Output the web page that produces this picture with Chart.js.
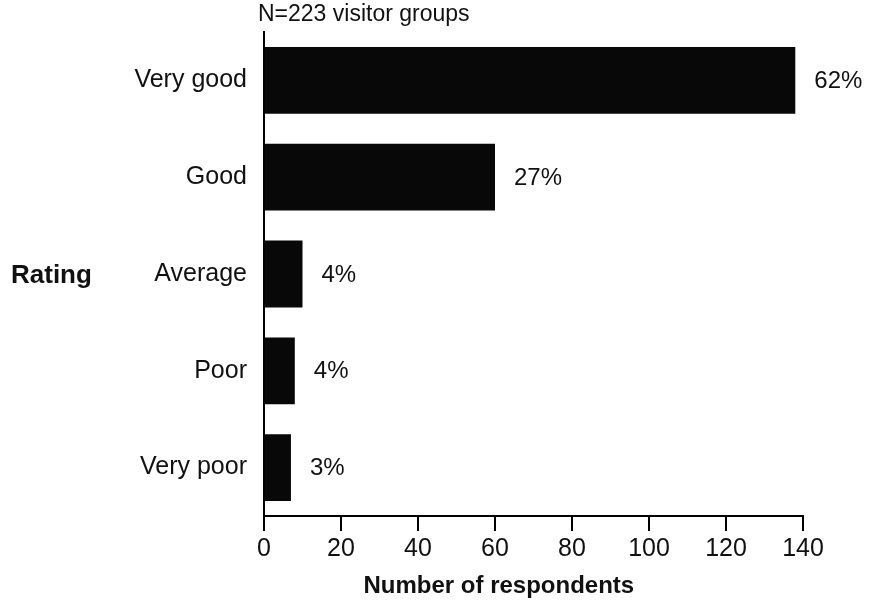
<!DOCTYPE html>
<html>
<head>
<meta charset="utf-8">
<script src="https://cdn.jsdelivr.net/npm/chart.js@4/dist/chart.umd.min.js"></script>
<style>
  html, body { margin: 0; padding: 0; background: #fff; }
  #wrap { width: 871px; height: 603px; }
</style>
</head>
<body>
<div id="wrap"><canvas id="chart" width="871" height="603"></canvas></div>
<script>
// ─── Daten ──────────────────────────────────────────────────────────────────
const categories = ['Very good', 'Good', 'Average', 'Poor', 'Very poor'];
const respondents = [138, 60, 10, 8, 7];
const percentLabels = ['62%', '27%', '4%', '4%', '3%'];
const xTicks = [0, 20, 40, 60, 80, 100, 120, 140];

const FONT = '"Liberation Sans", Arial, sans-serif';

// ─── Beschriftungen (Prozent, Rating, N=, Achsentitel) ──────────────────────
const annotations = {
  id: 'annotations',
  afterDatasetsDraw(chart) {
    const ctx = chart.ctx;
    const meta = chart.getDatasetMeta(0);
    const area = chart.chartArea;
    ctx.save();
    ctx.fillStyle = '#111';
    ctx.textBaseline = 'middle';
    ctx.textAlign = 'left';
    ctx.font = '24px ' + FONT;
    meta.data.forEach((bar, i) => {
      ctx.fillText(percentLabels[i], bar.x + 19, bar.y + 1);
    });
    // "Rating" links
    ctx.font = 'bold 26px ' + FONT;
    ctx.fillText('Rating', 11, meta.data[2].y + 2);
    // N oben
    ctx.font = '23px ' + FONT;
    ctx.fillText('N=223 visitor groups', area.left - 6, 15);
    // x-Achsentitel (im Original leicht nach links versetzt)
    ctx.font = 'bold 24px ' + FONT;
    ctx.textAlign = 'center';
    ctx.fillText('Number of respondents', chart.scales.x.getPixelForValue(61), 586);
    ctx.restore();
  }
};

new Chart(document.getElementById('chart'), {
  type: 'bar',
  data: {
    labels: categories,
    datasets: [{
      data: respondents,
      backgroundColor: '#080808',
      borderWidth: 0,
      categoryPercentage: 0.69,
      barPercentage: 1.0,
    }],
  },
  options: {
    indexAxis: 'y',
    responsive: false,
    animation: false,
    layout: { padding: { top: 32, right: 68, left: 0, bottom: 0 } },
    plugins: { legend: { display: false }, tooltip: { enabled: false } },
    scales: {
      x: {
        min: 0, max: 140,
        afterBuildTicks: (s) => { s.ticks = xTicks.map(v => ({ value: v })); },
        afterFit: (s) => { s.height = 87; },
        border: { color: '#000', width: 2 },
        grid: { drawOnChartArea: false, drawTicks: true, tickLength: 15, color: '#000', lineWidth: 2 },
        ticks: { color: '#111', font: { family: FONT, size: 25 }, padding: 3, maxRotation: 0 },
      },
      y: {
        afterFit: (s) => { s.width = 264; },
        border: { color: '#000', width: 2 },
        grid: { display: false },
        ticks: { color: '#111', font: { family: FONT, size: 25 }, padding: 9 },
      },
    },
  },
  plugins: [annotations],
});
</script>
</body>
</html>
